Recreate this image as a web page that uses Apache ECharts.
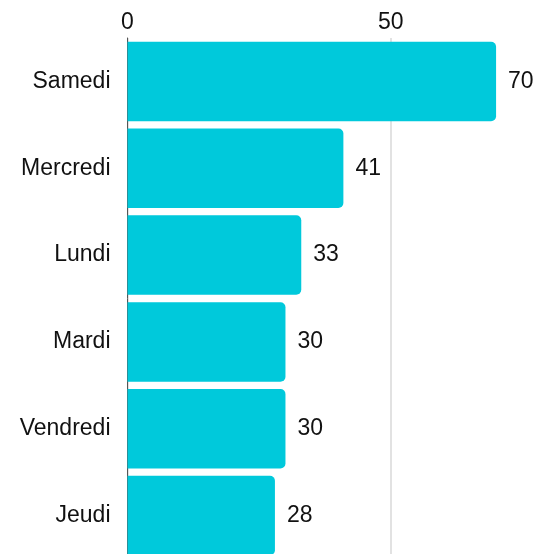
<!DOCTYPE html>
<html>
<head>
<meta charset="utf-8">
<script src="https://cdn.jsdelivr.net/npm/echarts@6/dist/echarts.min.js"></script>
<style>
  html, body { margin: 0; padding: 0; background: #fff; overflow: hidden; }
  #chart { width: 554px; height: 559px; }
</style>
</head>
<body>
<div id="chart"></div>
<script>
// Days, ranked from highest to lowest count
const days = ['Samedi', 'Mercredi', 'Lundi', 'Mardi', 'Vendredi', 'Jeudi'];
const counts = [70, 41, 33, 30, 30, 28];
const valueTicks = [0, 50];

const chart = echarts.init(document.getElementById('chart'));
const font = 'Liberation Sans, Arial, sans-serif';

chart.setOption({
  animation: false,
  grid: { left: 127.5, right: 0, top: 38, bottom: 0 },
  xAxis: {
    type: 'value',
    position: 'top',
    min: 0,
    max: 81,
    interval: 50,
    axisLine: { show: false },
    axisTick: { show: false },
    axisLabel: {
      margin: 4,
      color: '#111',
      fontSize: 23,
      fontFamily: font,
      showMaxLabel: false,
      formatter: v => (valueTicks.includes(v) ? String(v) : '')
    },
    splitLine: { show: true, lineStyle: { color: '#d9d9d9', width: 1.5 } }
  },
  yAxis: {
    type: 'category',
    inverse: true,
    data: days,
    axisLine: { show: true, lineStyle: { color: '#555', width: 1 } },
    axisTick: { show: false },
    axisLabel: { margin: 17, color: '#111', fontSize: 23, fontFamily: font }
  },
  series: [{
    type: 'bar',
    data: counts,
    barCategoryGap: '8.5%',
    itemStyle: { color: '#00C9DB', borderRadius: [0, 5, 5, 0] },
    label: {
      show: true,
      position: 'right',
      distance: 12,
      color: '#111',
      fontSize: 23,
      fontFamily: font
    }
  }]
});
</script>
</body>
</html>
